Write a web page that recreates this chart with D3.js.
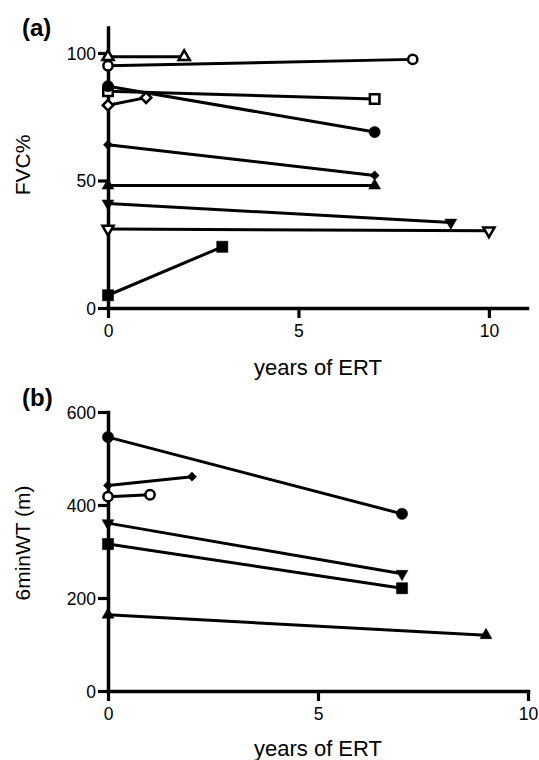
<!DOCTYPE html>
<html lang="en">
<head>
<meta charset="UTF-8">
<title>FVC% and 6minWT vs years of ERT</title>
<script src="https://d3js.org/d3.v7.min.js"></script>
<style>
  body { margin: 0; background: #fff; }
  svg text { font-family: "Liberation Sans", Arial, sans-serif; fill: #000; }
</style>
</head>
<body>
<script>
// panel (a): FVC% per patient, [start, end]
const fvcYears = [[0, 2], [0, 8], [0, 7], [0, 7], [0, 1], [0, 7], [0, 7], [0, 9], [0, 10], [0, 3]];
const fvcValues = [[98.5, 98.5], [95, 97.5], [85, 82], [87, 69], [79.5, 82.5], [64, 52], [48, 48], [41, 33.5], [31, 30.3], [5, 24]];
const fvcMarkers = ["triangle-open", "circle-open", "square-open", "circle", "diamond-open", "diamond", "triangle", "triangleDown", "triangleDown-open", "square"];
const fvcTicks = [0, 50, 100];

// panel (b): 6 minute walk test (m)
const walkYears = [[0, 7], [0, 2], [0, 1], [0, 7], [0, 7], [0, 9]];
const walkValues = [[546, 381], [442, 461], [418, 422], [361, 252], [316, 221], [164, 120]];
const walkMarkers = ["circle", "diamond", "circle-open", "triangleDown", "square", "triangle"];
const walkTicks = [0, 200, 400, 600];

const xTicks = [0, 5, 10];

const width = 539, height = 760;
const svg = d3.select("body").append("svg")
  .attr("width", width)
  .attr("height", height);

function markerPath(kind) {
  const base = kind.replace("-open", "");
  const open = kind.endsWith("-open");
  if (base === "circle") return d3.symbol(d3.symbolCircle, open ? 68 : 100)();
  if (base === "square") return d3.symbol(d3.symbolSquare, open ? 90 : 125)();
  if (base === "diamond") return d3.symbol(d3.symbolSquare, open ? 55 : 42)();
  return d3.symbol(d3.symbolTriangle, open ? 55 : 62)();
}
function markerRotate(kind) {
  if (kind.startsWith("diamond")) return 45;
  if (kind.startsWith("triangleDown")) return 180;
  return 0;
}

function drawPanel(opt) {
  const x = d3.scaleLinear().domain(opt.xDomain).range([108, opt.xRight]);
  const y = d3.scaleLinear().domain(opt.yDomain).range([opt.yBottom, opt.yTop]);
  const g = svg.append("g");

  const xAxis = g.append("g")
    .attr("transform", `translate(0,${opt.yBottom})`)
    .call(d3.axisBottom(x).tickValues(xTicks).tickSize(10).tickSizeOuter(0).tickPadding(7));
  const yAxis = g.append("g")
    .attr("transform", "translate(108,0)")
    .call(d3.axisLeft(y).tickValues(opt.yTicks).tickSize(10).tickSizeOuter(0).tickPadding(2));

  [xAxis, yAxis].forEach(a => {
    a.select(".domain").attr("stroke-width", 3.5).attr("stroke-linecap", "square");
    a.selectAll(".tick line").attr("stroke-width", 3.2);
    a.selectAll(".tick text").attr("font-size", 17.5).attr("fill", "#000");
  });
  yAxis.selectAll(".tick text").attr("dy", "0.36em");

  const series = opt.years.map((xs, i) => ({
    pts: xs.map((v, j) => [v, opt.values[i][j]]),
    marker: opt.markers[i]
  }));

  const line = d3.line().x(d => x(d[0])).y(d => y(d[1]));
  g.selectAll("path.series")
    .data(series)
    .join("path")
    .attr("class", "series")
    .attr("fill", "none")
    .attr("stroke", "#000")
    .attr("stroke-width", 3)
    .attr("d", d => line(d.pts));

  series.forEach(s => {
    g.selectAll(null)
      .data(s.pts)
      .join("path")
      .attr("d", markerPath(s.marker))
      .attr("transform", d => `translate(${x(d[0])},${y(d[1])}) rotate(${markerRotate(s.marker)})`)
      .attr("fill", s.marker.endsWith("-open") ? "#fff" : "#000")
      .attr("stroke", "#000")
      .attr("stroke-width", s.marker.endsWith("-open") ? 2.5 : 0.5);
  });

  g.append("text")
    .attr("x", 318)
    .attr("y", opt.xTitleY)
    .attr("text-anchor", "middle")
    .attr("font-size", 22)
    .text("years of ERT");

  g.append("text")
    .attr("transform", `translate(30,${opt.yTitleY}) rotate(-90)`)
    .attr("text-anchor", "middle")
    .attr("font-size", 21)
    .text(opt.yLabel);

  g.append("text")
    .attr("x", 22)
    .attr("y", opt.tagY)
    .attr("font-size", 24)
    .attr("font-weight", "bold")
    .text(opt.tag);
}

drawPanel({
  xDomain: [0, 11], xRight: 527,
  yDomain: [0, 110], yBottom: 308, yTop: 27.5,
  yTicks: fvcTicks,
  years: fvcYears, values: fvcValues, markers: fvcMarkers,
  xTitleY: 375, yTitleY: 165, yLabel: "FVC%",
  tag: "(a)", tagY: 36
});

drawPanel({
  xDomain: [0, 10], xRight: 528,
  yDomain: [0, 600], yBottom: 691, yTop: 412,
  yTicks: walkTicks,
  years: walkYears, values: walkValues, markers: walkMarkers,
  xTitleY: 756, yTitleY: 543, yLabel: "6minWT (m)",
  tag: "(b)", tagY: 406
});
</script>
</body>
</html>
